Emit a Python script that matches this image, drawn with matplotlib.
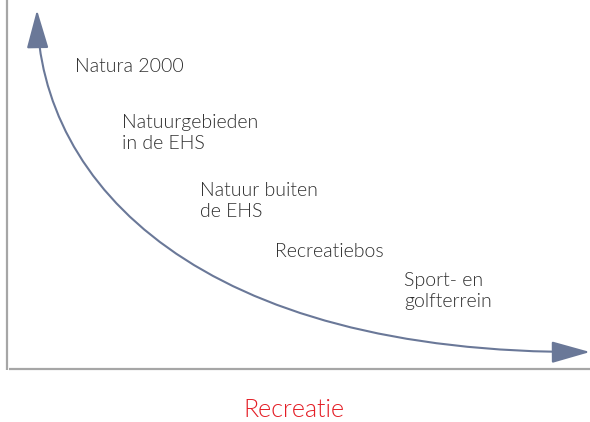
import matplotlib
matplotlib.use("Agg")
import matplotlib.pyplot as plt
from matplotlib.patches import FancyArrowPatch
from matplotlib.path import Path

# curve (cubic Bezier control points, pixel space of the original diagram)
curve_x = [37, 40, 200, 590]
curve_y = [10, 185, 354, 352]

labels = ["Natura 2000", "Natuurgebieden\nin de EHS", "Natuur buiten\nde EHS",
          "Recreatiebos", "Sport- en\ngolfterrein"]
label_x = [75, 122, 200, 275, 404]
label_y = [72, 149, 217, 257, 307]  # baseline of the last line
axis_title = "Recreatie"

TEXT = "#2e2e2e"
ARROW = "#6a7898"
AXIS = "#a6a6a6"
RED = "#e41e26"

plt.rcParams["font.family"] = ["Lato", "DejaVu Sans"]

fig = plt.figure(figsize=(5.9, 4.22), dpi=100)
ax = fig.add_axes([0, 0, 1, 1])
ax.set_xlim(0, 590)
ax.set_ylim(422, 0)
ax.axis("off")

# axes frame of the diagram
ax.plot([7, 7], [0, 370], color=AXIS, lw=1.6, solid_capstyle="butt")
ax.plot([9, 590], [369, 369], color=AXIS, lw=1.6, solid_capstyle="butt")

path = Path(list(zip(curve_x, curve_y)),
            [Path.MOVETO, Path.CURVE4, Path.CURVE4, Path.CURVE4])
arrow = FancyArrowPatch(path=path, arrowstyle="<|-|>,head_length=24,head_width=6.8",
                        color=ARROW, lw=1.5, shrinkA=0, shrinkB=0)
ax.add_patch(arrow)

for txt, x, y in zip(labels, label_x, label_y):
    ax.text(x, y, txt, ha="left", va="baseline", fontsize=14, color=TEXT,
            fontweight=300, linespacing=1.28)

ax.text(294, 417, axis_title, ha="center", va="baseline", fontsize=18,
        color=RED, fontweight=300)

fig.savefig("out.png", dpi=100)
